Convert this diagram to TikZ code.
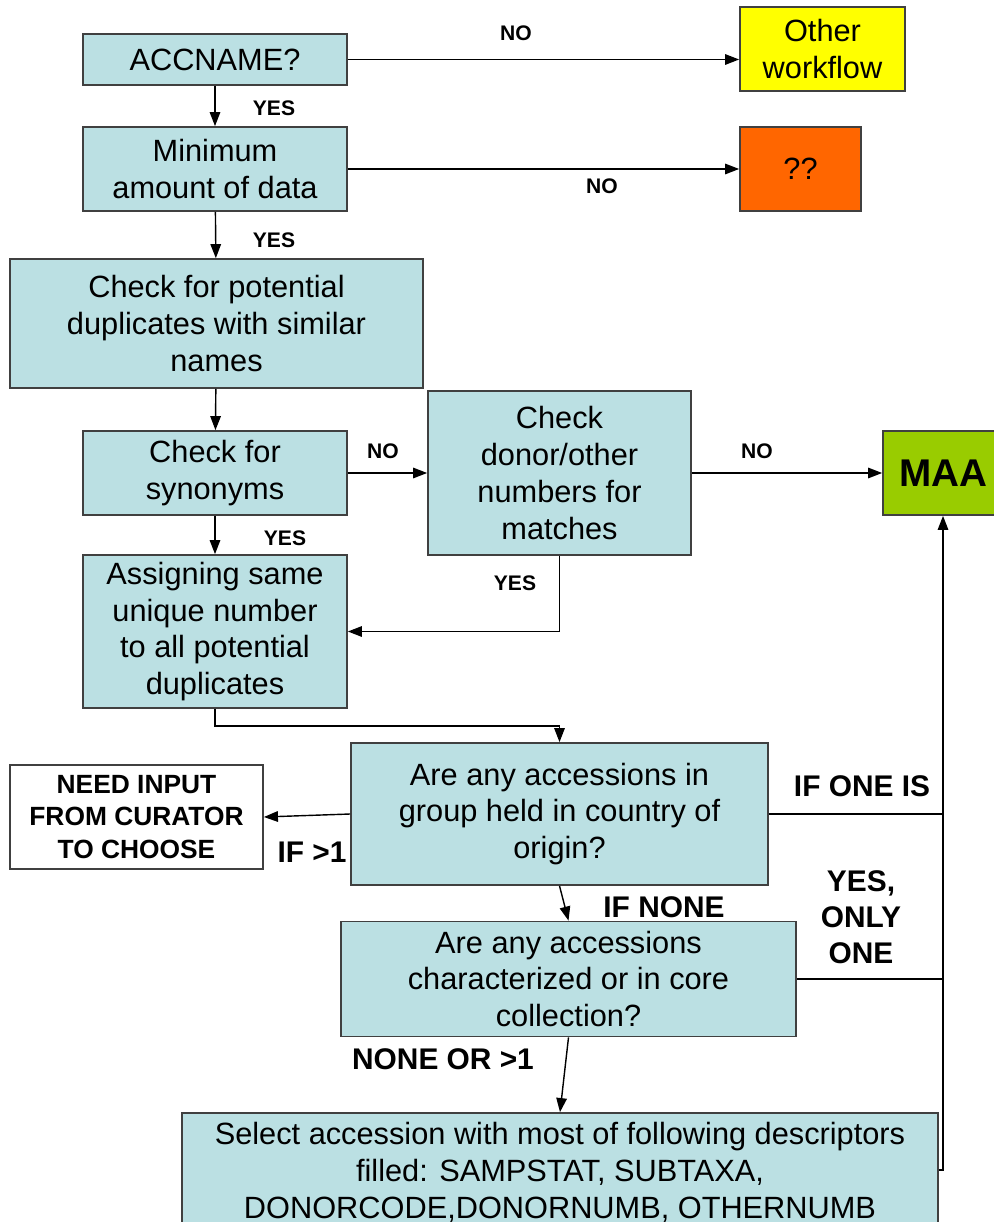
\documentclass[tikz,border=0pt]{standalone}
\usepackage{fontspec}
\setmainfont{Liberation Sans}
\usetikzlibrary{arrows.meta}
\definecolor{boxcyan}{HTML}{BBE0E3}
\definecolor{boxline}{HTML}{404040}
\definecolor{wfyellow}{HTML}{FFFF00}
\definecolor{qqorange}{HTML}{FF6600}
\definecolor{maagreen}{HTML}{99CC00}
\begin{document}
\begin{tikzpicture}
        [x=0.02cm,y=-0.02cm,
         box/.style 2 args={draw=boxline,line width=1pt,fill=boxcyan,inner sep=0pt,align=center,
           minimum width=#1*0.02cm,minimum height=#2*0.02cm,
           font=\fontsize{17.5}{21}\selectfont},
         lbl/.style={font=\fontsize{12}{14}\selectfont\bfseries},
         biglbl/.style={font=\fontsize{17}{20.5}\selectfont\bfseries,align=center},
         arr/.style={-{Triangle[length=8pt,width=6pt]},line width=0.8pt},
         rail/.style={line width=0.8pt}]
        \useasboundingbox (0,0) rectangle (993,1222);

        \node[box={264}{51}] (acc) at (215,59.5) {ACCNAME?};
        \node[box={165}{84},fill=wfyellow] (other) at (822.5,49) {Other\\workflow};
        \node[box={264}{84}] (mini) at (215,169) {Minimum\\amount of data};
        \node[box={121}{84},fill=qqorange] (qq) at (800.5,169) {??};
        \node[box={413}{129}] (pot) at (216.5,323.5) {Check for potential\\duplicates with similar\\names};
        \node[box={264}{84}] (syn) at (215,473) {Check for\\synonyms};
        \node[box={263}{164}] (donor) at (559.5,473) {Check\\donor/other\\numbers for\\matches};
        \node[box={120}{84},fill=maagreen,font=\fontsize{22}{26}\selectfont\bfseries] (maa) at (943,473) {MAA};
        \node[box={264}{153}] (assign) at (215,631.5) {Assigning same\\unique number\\to all potential\\duplicates};
        \node[box={417}{142}] (group) at (559.5,814) {Are any accessions in\\group held in country of\\origin?};
        \node[box={253}{104},fill=white,font=\fontsize{15}{18.5}\selectfont\bfseries] (need) at (136.5,817) {NEED INPUT\\FROM CURATOR\\TO CHOOSE};
        \node[box={455}{115}] (charact) at (568.5,979) {Are any accessions\\characterized or in core\\collection?};
        \node[box={756}{118}] (select) at (560,1172) {Select accession with most of following descriptors\\filled: SAMPSTAT, SUBTAXA,\\DONORCODE,DONORNUMB, OTHERNUMB};
        \coordinate (up) at (943,1170);

        \draw[arr] (acc.east) -- (acc.east -| other.west);
        \draw[arr] (acc) -- (mini);
        \draw[arr] (mini) -- (qq);
        \draw[arr] (mini) -- (pot);
        \draw[arr] (pot) -- (syn);
        \draw[arr] (syn) -- (donor);
        \draw[arr] (donor) -- (maa);
        \draw[arr] (syn) -- (assign);
        \draw[arr] (donor.south) |- (assign.east);
        \draw[arr] (assign.south) -- ++(0,17) -| (group.north);
        \draw[arr] (group.west) -- (need.east);
        \draw[arr] (group.south) -- (charact.north);
        \draw[arr] (charact.south) -- (select.north);
        \draw[rail] (group.east) -- (group.east -| up);
        \draw[rail] (charact.east) -- (charact.east -| up);
        \draw[arr] (up -| select.east) -- (up) -- (maa.south);

        \node[lbl] (no1) at (516,33) {NO};
        \node[lbl] (yes1) at (274,108) {YES};
        \node[lbl] (no2) at (602,186) {NO};
        \node[lbl] (yes2) at (274,240) {YES};
        \node[lbl] (no3) at (383,451) {NO};
        \node[lbl] (no4) at (757,451) {NO};
        \node[lbl] (yes3) at (285,538) {YES};
        \node[lbl] (yes4) at (515,583) {YES};
        \node[biglbl] (oneis) at (862,786) {IF ONE IS};
        \node[biglbl] (more) at (312,852) {IF >1};
        \node[biglbl] (none) at (664,907) {IF NONE};
        \node[biglbl] (only) at (861,917) {YES,\\ONLY\\ONE};
        \node[biglbl] (noneor) at (443,1059) {NONE OR >1};
      \end{tikzpicture}
\end{document}
